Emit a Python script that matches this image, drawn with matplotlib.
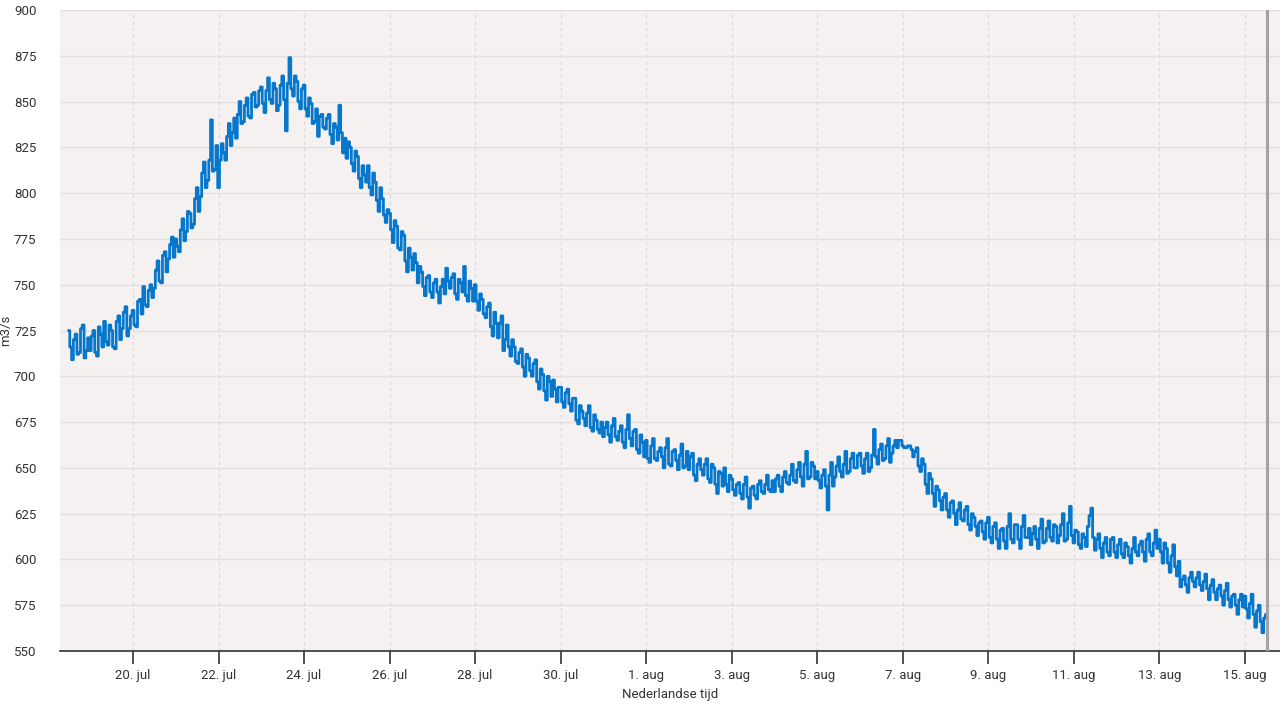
import numpy as np
import pandas as pd
import matplotlib
matplotlib.use("Agg")
import matplotlib.pyplot as plt

plt.rcParams['font.family'] = ['Roboto', 'DejaVu Sans']

# discharge (m3/s) at the even hours, starting 18 jul 12:00
day_18jul = [725, 709, 723, 713, 728, 714]
day_19jul = [714, 725, 711, 723, 730, 717, 725, 715, 733, 726, 738, 726]
day_20jul = [736, 727, 742, 749, 738, 750, 748, 763, 751, 768, 764, 776]
day_21jul = [775, 768, 786, 779, 789, 783, 803, 798, 817, 807, 840, 813]
day_22jul = [803, 827, 818, 838, 833, 830, 850, 839, 852, 841, 855, 848]
day_23jul = [858, 844, 863, 849, 857, 848, 864, 834, 874, 853, 861, 846]
day_24jul = [859, 842, 849, 839, 831, 843, 835, 843, 827, 836, 848, 822]
day_25jul = [819, 825, 812, 820, 803, 810, 815, 799, 806, 790, 797, 784]
day_26jul = [789, 773, 782, 769, 777, 757, 765, 767, 751, 757, 744, 755]
day_27jul = [743, 753, 740, 753, 759, 748, 756, 742, 751, 760, 741, 748]
day_28jul = [750, 736, 742, 732, 740, 722, 729, 729, 714, 728, 711, 716]
day_29jul = [707, 715, 700, 710, 700, 709, 693, 701, 687, 697, 698, 686]
day_30jul = [694, 683, 693, 681, 688, 674, 681, 673, 684, 670, 676, 669]
day_31jul = [667, 675, 664, 677, 665, 673, 661, 679, 662, 671, 658, 664]
day_01aug = [665, 653, 666, 654, 661, 650, 666, 651, 660, 649, 663, 651]
day_02aug = [649, 658, 643, 655, 646, 655, 642, 650, 636, 647, 650, 637]
day_03aug = [644, 635, 642, 633, 645, 628, 640, 633, 643, 636, 646, 637]
day_04aug = [637, 646, 637, 648, 641, 652, 642, 653, 640, 659, 645, 651]
day_05aug = [648, 639, 649, 627, 653, 645, 656, 645, 659, 648, 658, 650]
day_06aug = [658, 647, 658, 650, 671, 652, 663, 655, 666, 658, 665, 665]
day_07aug = [662, 661, 662, 656, 661, 648, 652, 636, 644, 629, 638, 627]
day_08aug = [636, 623, 632, 619, 631, 621, 629, 616, 623, 613, 621, 611]
day_09aug = [623, 609, 620, 606, 617, 606, 625, 609, 619, 606, 624, 612]
day_10aug = [608, 618, 606, 622, 610, 621, 610, 618, 613, 625, 611, 629]
day_11aug = [609, 615, 606, 612, 618, 628, 605, 614, 601, 612, 602, 612]
day_12aug = [601, 611, 601, 607, 598, 612, 602, 610, 599, 614, 602, 616]
day_13aug = [611, 598, 606, 593, 608, 591, 585, 591, 582, 593, 585, 593]
day_14aug = [583, 592, 578, 589, 578, 586, 575, 587, 574, 581, 570, 581]
day_15aug = [580, 568, 581, 563, 575, 560, 570]

# readings at the odd hours in between
odd_18jul = [716, 720, 712, 726, 710, 721]
odd_19jul = [722, 713, 727, 716, 719, 728, 716, 730, 720, 735, 722, 733]
odd_20jul = [728, 741, 734, 739, 747, 743, 758, 752, 766, 757, 772, 765]
odd_21jul = [771, 780, 774, 790, 781, 797, 790, 811, 803, 818, 812, 826]
odd_22jul = [818, 822, 831, 826, 841, 843, 838, 848, 842, 854, 847, 856]
odd_23jul = [849, 856, 851, 860, 845, 859, 851, 860, 857, 864, 850, 857]
odd_24jul = [846, 852, 838, 846, 842, 836, 841, 832, 838, 829, 833, 830]
odd_25jul = [828, 816, 823, 808, 815, 806, 803, 811, 796, 803, 788, 791]
odd_26jul = [780, 785, 770, 779, 763, 770, 758, 762, 760, 749, 754, 746]
odd_27jul = [751, 746, 749, 745, 752, 754, 745, 753, 746, 744, 752, 741]
odd_28jul = [741, 745, 734, 738, 727, 735, 721, 733, 720, 716, 720, 708]
odd_29jul = [713, 705, 712, 703, 707, 697, 704, 692, 700, 689, 693, 694]
odd_30jul = [686, 691, 685, 688, 676, 684, 677, 680, 672, 679, 671, 675]
odd_31jul = [672, 668, 673, 667, 670, 664, 671, 666, 670, 660, 668, 656]
odd_01aug = [655, 662, 655, 659, 656, 661, 652, 659, 654, 657, 650, 659]
odd_02aug = [656, 646, 652, 649, 652, 644, 652, 641, 648, 640, 641, 646]
odd_03aug = [638, 641, 636, 641, 634, 639, 635, 641, 637, 641, 638, 643]
odd_04aug = [644, 640, 645, 642, 646, 643, 649, 645, 652, 644, 653, 644]
odd_05aug = [643, 646, 640, 646, 640, 651, 648, 652, 647, 655, 650, 657]
odd_06aug = [651, 655, 648, 657, 656, 660, 654, 662, 653, 662, 661, 665]
odd_07aug = [661, 662, 660, 659, 651, 655, 641, 647, 636, 640, 632, 634]
odd_08aug = [627, 631, 625, 627, 622, 627, 619, 625, 618, 620, 615, 620]
odd_09aug = [612, 618, 611, 616, 610, 618, 611, 619, 611, 618, 612, 617]
odd_10aug = [614, 611, 617, 609, 617, 612, 619, 609, 619, 610, 620, 613]
odd_11aug = [616, 608, 614, 607, 624, 612, 611, 606, 609, 604, 611, 604]
odd_12aug = [608, 603, 609, 602, 606, 604, 608, 604, 611, 604, 609, 606]
odd_13aug = [604, 609, 598, 602, 596, 599, 589, 586, 590, 588, 590, 586]
odd_14aug = [588, 584, 586, 582, 584, 580, 583, 578, 580, 575, 578, 574]
odd_15aug = [573, 576, 570, 572, 566, 568]

days = [
    (day_18jul, odd_18jul), (day_19jul, odd_19jul), (day_20jul, odd_20jul),
    (day_21jul, odd_21jul), (day_22jul, odd_22jul), (day_23jul, odd_23jul),
    (day_24jul, odd_24jul), (day_25jul, odd_25jul), (day_26jul, odd_26jul),
    (day_27jul, odd_27jul), (day_28jul, odd_28jul), (day_29jul, odd_29jul),
    (day_30jul, odd_30jul), (day_31jul, odd_31jul), (day_01aug, odd_01aug),
    (day_02aug, odd_02aug), (day_03aug, odd_03aug), (day_04aug, odd_04aug),
    (day_05aug, odd_05aug), (day_06aug, odd_06aug), (day_07aug, odd_07aug),
    (day_08aug, odd_08aug), (day_09aug, odd_09aug), (day_10aug, odd_10aug),
    (day_11aug, odd_11aug), (day_12aug, odd_12aug), (day_13aug, odd_13aug),
    (day_14aug, odd_14aug), (day_15aug, odd_15aug),
]

flow = []
for even, odd in days:
    for i, v in enumerate(even):
        flow.append(v)
        if i < len(odd):
            flow.append(odd[i])
times = pd.date_range("2023-07-18 12:00", periods=len(flow), freq="1h")

now_time = pd.Timestamp("2023-08-15 12:30")
tick_dates = pd.date_range("2023-07-20", "2023-08-15", freq="2D")
tick_labels = ["20. jul", "22. jul", "24. jul", "26. jul", "28. jul", "30. jul",
               "1. aug", "3. aug", "5. aug", "7. aug", "9. aug", "11. aug",
               "13. aug", "15. aug"]
y_ticks = [550, 575, 600, 625, 650, 675, 700, 725, 750, 775, 800, 825, 850, 875, 900]

fig = plt.figure(figsize=(12.8, 7.2), dpi=100)
ax = fig.add_axes([60 / 1280, 1 - 651 / 720, 1220 / 1280, 641 / 720])
ax.set_facecolor('#f4f1f0')

ax.plot(times, flow, color='#0777cc', linewidth=2.0, drawstyle='steps-mid', zorder=3)
ax.axvline(now_time, color='#a3a3a3', linewidth=2.2, zorder=4)

ax.set_xlim(pd.Timestamp("2023-07-18 07:00"), pd.Timestamp("2023-08-15 19:40"))
ax.set_ylim(550, 900)
ax.set_xticks(tick_dates)
ax.set_xticklabels(tick_labels)
ax.set_yticks(y_ticks)

ax.grid(axis='y', color='#e2e0df', linewidth=1.0, linestyle='-', zorder=1)
ax.grid(axis='x', color='#d9d7d6', linewidth=0.8, linestyle=(0, (3, 3)), zorder=1)

for side in ['top', 'right', 'left']:
    ax.spines[side].set_visible(False)
ax.spines['bottom'].set_color('#333333')
ax.spines['bottom'].set_linewidth(1.2)

ax.tick_params(axis='x', length=9, width=1.2, color='#333333',
               labelsize=9.5, labelcolor='#333333', pad=4)
ax.tick_params(axis='y', length=0, labelsize=9.5, labelcolor='#333333', pad=17)

ax.set_xlabel('Nederlandse tijd', fontsize=9.5, color='#333333', labelpad=4)
ax.set_ylabel('m3/s', fontsize=9.5, color='#333333')
ax.yaxis.set_label_coords(-0.039, 0.5)

fig.savefig('out.png', dpi=100)
